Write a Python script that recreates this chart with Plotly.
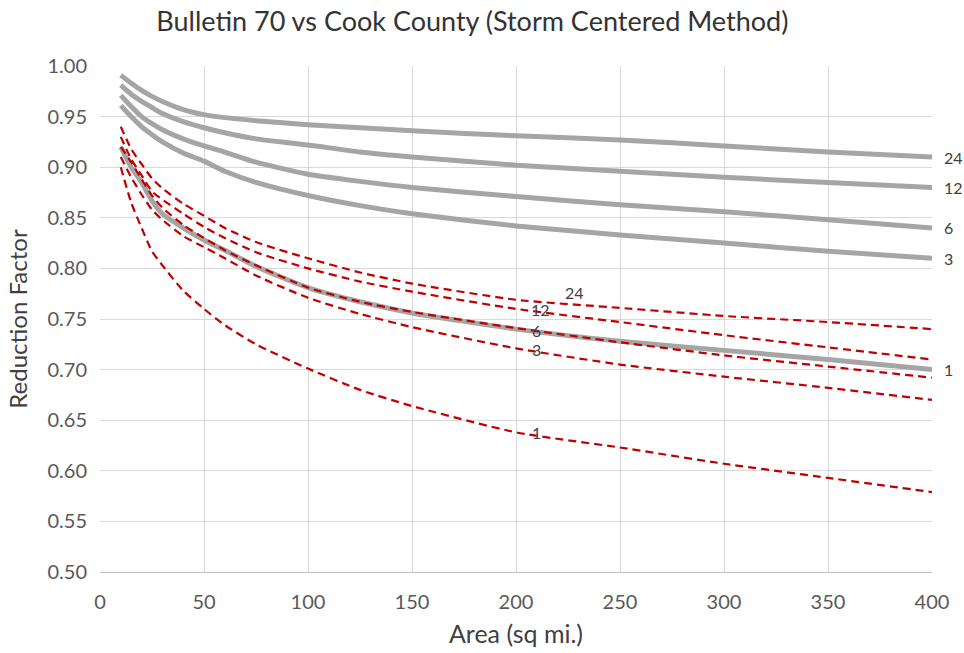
import plotly.graph_objects as go

# Area (sq mi.)
area = [10, 15, 20, 25, 30, 40, 50, 60, 75, 100, 125, 150, 200, 250, 300, 350, 400]

# Cook County (storm centered), by duration in hours
cook_24 = [0.991, 0.983, 0.976, 0.970, 0.965, 0.957, 0.952, 0.949, 0.946, 0.942, 0.939, 0.936, 0.931, 0.927, 0.921, 0.915, 0.910]
cook_12 = [0.981, 0.972, 0.965, 0.959, 0.953, 0.945, 0.939, 0.934, 0.928, 0.922, 0.915, 0.910, 0.902, 0.896, 0.890, 0.885, 0.880]
cook_6 = [0.971, 0.960, 0.950, 0.943, 0.937, 0.928, 0.921, 0.915, 0.905, 0.893, 0.886, 0.880, 0.871, 0.863, 0.856, 0.848, 0.840]
cook_3 = [0.961, 0.950, 0.940, 0.932, 0.925, 0.914, 0.906, 0.896, 0.885, 0.872, 0.862, 0.854, 0.842, 0.833, 0.825, 0.817, 0.810]
cook_1 = [0.920, 0.900, 0.885, 0.867, 0.854, 0.840, 0.828, 0.818, 0.802, 0.781, 0.767, 0.756, 0.740, 0.728, 0.719, 0.710, 0.700]

# Bulletin 70, by duration in hours
b70_24 = [0.940, 0.918, 0.903, 0.889, 0.879, 0.864, 0.852, 0.840, 0.826, 0.810, 0.796, 0.785, 0.769, 0.761, 0.753, 0.747, 0.740]
b70_12 = [0.930, 0.908, 0.892, 0.876, 0.868, 0.854, 0.841, 0.830, 0.816, 0.800, 0.787, 0.777, 0.760, 0.747, 0.734, 0.722, 0.710]
b70_6 = [0.920, 0.905, 0.888, 0.872, 0.860, 0.843, 0.830, 0.818, 0.803, 0.781, 0.767, 0.757, 0.741, 0.727, 0.714, 0.703, 0.692]
b70_3 = [0.910, 0.890, 0.873, 0.858, 0.848, 0.832, 0.821, 0.810, 0.793, 0.771, 0.755, 0.742, 0.721, 0.705, 0.693, 0.682, 0.670]
b70_1 = [0.900, 0.865, 0.840, 0.817, 0.803, 0.778, 0.760, 0.744, 0.725, 0.701, 0.680, 0.664, 0.638, 0.623, 0.607, 0.593, 0.579]

durations = ["24", "12", "6", "3", "1"]
cook = [cook_24, cook_12, cook_6, cook_3, cook_1]
b70 = [b70_24, b70_12, b70_6, b70_3, b70_1]

# label positions for the Bulletin 70 curves (area, factor)
b70_label_x = [228, 212, 210, 210, 210]
b70_label_y = [0.776, 0.759, 0.739, 0.720, 0.638]

FONT = "Lato, 'Open Sans', sans-serif"
TXT = "#404040"

fig = go.Figure()

for name, ys in zip(durations, cook):
    fig.add_trace(go.Scatter(x=area, y=ys, mode="lines", name="Cook " + name,
                             line=dict(color="#a5a5a5", width=5, shape="spline", smoothing=0.6)))

for name, ys in zip(durations, b70):
    fig.add_trace(go.Scatter(x=area, y=ys, mode="lines", name="B70 " + name,
                             line=dict(color="#c00000", width=2.2, dash="8px,5px", shape="spline", smoothing=0.6)))

# duration labels at the right end of the Cook County curves
for name, ys in zip(durations, cook):
    fig.add_annotation(x=area[-1], y=ys[-1], text=name, showarrow=False, xanchor="left", xshift=10,
                       font=dict(family=FONT, size=16, color=TXT))

for name, lx, ly in zip(durations, b70_label_x, b70_label_y):
    fig.add_annotation(x=lx, y=ly, text=name, showarrow=False,
                       font=dict(family=FONT, size=16, color=TXT))

fig.update_layout(
    width=964, height=653,
    margin=dict(l=100, r=32, t=66, b=81),
    paper_bgcolor="white", plot_bgcolor="white",
    showlegend=False,
    title=dict(text="Bulletin 70 vs Cook County (Storm Centered Method)", x=0.49, xanchor="center",
               y=1 - 22 / 653, yanchor="middle", font=dict(family=FONT, size=27, color="#333333")),
    font=dict(family=FONT, color=TXT),
)

fig.update_xaxes(range=[0, 400], dtick=50, showgrid=True, gridcolor="#d9d9d9", gridwidth=1.2,
                 zeroline=False, showline=True, linecolor="#bfbfbf", linewidth=1, automargin=False,
                 ticks="", ticklabelstandoff=12, tickfont=dict(family=FONT, size=20, color="#595959"),
                 title=dict(text="Area (sq mi.)", font=dict(family=FONT, size=25, color=TXT), standoff=13))
fig.update_yaxes(range=[0.5, 1.0], dtick=0.05, tickformat=".2f", showgrid=True, gridcolor="#d9d9d9",
                 gridwidth=1.2, zeroline=False, showline=False, automargin=False,
                 ticks="", ticklabelstandoff=12, tickfont=dict(family=FONT, size=20, color="#595959"),
                 title=dict(text="Reduction Factor", font=dict(family=FONT, size=24, color=TXT), standoff=13))

fig.write_html("out.html", config={"displayModeBar": False},
               post_script="document.body.style.margin='0';")
